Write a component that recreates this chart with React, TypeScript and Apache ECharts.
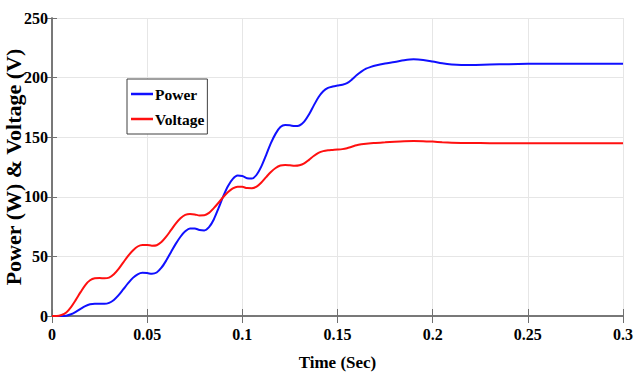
import React, { useEffect, useRef } from "react";
import * as echarts from "echarts";

// Sample times (s)
const time: number[] = [
  0, 0.0025, 0.005, 0.0075, 0.01, 0.0125, 0.015, 0.0175, 0.02, 0.0225, 0.025, 0.0275,
  0.03, 0.0325, 0.035, 0.0375, 0.04, 0.0425, 0.045, 0.0475, 0.05, 0.0525, 0.055, 0.0575,
  0.06, 0.0625, 0.065, 0.0675, 0.07, 0.0725, 0.075, 0.0775, 0.08, 0.0825, 0.085, 0.0875,
  0.09, 0.0925, 0.095, 0.0975, 0.1, 0.1025, 0.105, 0.1075, 0.11, 0.1125, 0.115, 0.1175,
  0.12, 0.1225, 0.125, 0.1275, 0.13, 0.1325, 0.135, 0.1375, 0.14, 0.1425, 0.145, 0.1475,
  0.15, 0.1525, 0.155, 0.1575, 0.16, 0.1625, 0.165, 0.1675, 0.17, 0.175, 0.18, 0.185,
  0.19, 0.195, 0.2, 0.205, 0.21, 0.215, 0.22, 0.23, 0.24, 0.25, 0.26, 0.28, 0.3,
];

// Output power (W)
const power: number[] = [
  0, 0, 0, 0.3, 1.5, 3.5, 6, 8.3, 9.8, 10.3, 10.2, 10.2,
  11, 13.5, 17.5, 22.5, 27.5, 32, 35, 36.2, 36, 35.4, 36.5, 40.5,
  46.5, 53.5, 60.5, 66.5, 71, 73.5, 73.4, 72.2, 71.8, 74.5, 81, 90.5,
  100.5, 109, 115, 117.8, 117.5, 115.6, 115.3, 118.5, 125.5, 135, 145, 153,
  158.5, 160.2, 160, 159.3, 159.8, 163, 169, 176.5, 183.5, 188.5, 191.3, 192.5,
  193.3, 194, 195.3, 198.3, 202, 205, 207.5, 209, 210.2, 211.8, 213, 214.5,
  215.3, 214.8, 213.5, 212, 211, 210.6, 210.6, 211, 211.3, 211.6, 211.7, 211.7, 211.6,
];

// Output voltage (V)
const voltage: number[] = [
  0, 0, 0.8, 3, 7.5, 13.5, 20, 26, 30, 31.6, 31.8, 31.6,
  32.2, 35, 39.5, 45, 50.5, 55, 58.3, 59.6, 59.6, 59, 59.4, 62,
  66.5, 72, 77.5, 82, 84.8, 85.6, 85.2, 84.4, 84.5, 86.5, 90.5, 95,
  99.8, 104, 107.1, 108.5, 108.4, 107.3, 107.2, 108.5, 112, 116.5, 120.8, 124.2,
  126.2, 126.7, 126.4, 126, 126.4, 128, 131, 134.2, 136.8, 138.3, 139, 139.3,
  139.6, 140, 140.8, 142, 143.2, 144, 144.6, 145, 145.2, 145.7, 146.2, 146.6,
  146.8, 146.7, 146.3, 145.8, 145.4, 145.2, 145.1, 145, 145, 145, 145, 145, 145,
];

const xTicks = { min: 0, max: 0.3, interval: 0.05 };
const yTicks = { min: 0, max: 250, interval: 50 };

const FONT = "Liberation Serif, serif";
const AXIS_GRAY = "#707070";

export default function App() {
  const ref = useRef<HTMLDivElement>(null);

  useEffect(() => {
    if (!ref.current) return;
    const chart = echarts.init(ref.current, undefined, { renderer: "svg" });

    const powerData = time.map((t, i) => [t, power[i]]);
    const voltageData = time.map((t, i) => [t, voltage[i]]);

    const tickLabel = {
      fontFamily: FONT,
      fontWeight: "bold" as const,
      fontSize: 16,
      color: "#000",
    };

    chart.setOption({
      animation: false,
      backgroundColor: "#fff",
      grid: { left: 52, right: 11, top: 18, bottom: 60, outerBoundsMode: "none", containLabel: false },
      legend: {
        orient: "vertical",
        left: 127,
        top: 79,
        padding: [7, 3, 7, 4],
        itemGap: 9,
        itemWidth: 22,
        itemHeight: 2.5,
        icon: "rect",
        borderColor: "#404040",
        borderWidth: 1,
        backgroundColor: "#fff",
        textStyle: { ...tickLabel, fontSize: 15.5, padding: [0, 0, 0, -3] },
        data: ["Power", "Voltage"],
      },
      xAxis: [
        {
          type: "value",
          ...xTicks,
          name: "Time (Sec)",
          nameLocation: "middle",
          nameGap: 38,
          nameMoveOverlap: false,
          nameTextStyle: { fontFamily: FONT, fontWeight: "bold", fontSize: 17, color: "#000" },
          axisLine: { lineStyle: { color: AXIS_GRAY, width: 1.5 } },
          axisTick: { inside: true, length: 7, lineStyle: { color: AXIS_GRAY } },
          axisLabel: {
            ...tickLabel,
            margin: 10,
            formatter: (v: number) => String(+v.toFixed(2)),
          },
          splitLine: { show: true, lineStyle: { color: "#e6e6e6", width: 1 } },
        },
        {
          type: "value",
          ...xTicks,
          position: "top",
          axisLine: { lineStyle: { color: AXIS_GRAY, width: 1.5 } },
          axisTick: { inside: true, length: 7, lineStyle: { color: AXIS_GRAY } },
          axisLabel: { show: false },
          splitLine: { show: false },
        },
      ],
      yAxis: [
        {
          type: "value",
          ...yTicks,
          name: "Power (W) & Voltage (V)",
          nameLocation: "middle",
          nameGap: 28,
          nameMoveOverlap: false,
          nameTextStyle: { fontFamily: FONT, fontWeight: "bold", fontSize: 22, color: "#000" },
          axisLine: { show: true, lineStyle: { color: AXIS_GRAY, width: 1.5 } },
          axisTick: { show: true, inside: true, length: 5, lineStyle: { color: AXIS_GRAY } },
          axisLabel: { ...tickLabel, margin: 4 },
          splitLine: { show: true, lineStyle: { color: "#e6e6e6", width: 1 } },
        },
        {
          type: "value",
          ...yTicks,
          position: "right",
          axisLine: { show: true, lineStyle: { color: AXIS_GRAY, width: 1.5 } },
          axisTick: { show: true, inside: true, length: 5, lineStyle: { color: AXIS_GRAY } },
          axisLabel: { show: false },
          splitLine: { show: false },
        },
      ],
      series: [
        {
          name: "Power",
          type: "line",
          data: powerData,
          smooth: 0.3,
          symbol: "none",
          lineStyle: { color: "#1010ff", width: 2 },
          itemStyle: { color: "#1010ff" },
        },
        {
          name: "Voltage",
          type: "line",
          data: voltageData,
          smooth: 0.3,
          symbol: "none",
          lineStyle: { color: "#ff1010", width: 2 },
          itemStyle: { color: "#ff1010" },
        },
      ],
    });

    return () => chart.dispose();
  }, []);

  return (
    <div
      ref={ref}
      style={{ width: 634, height: 376, position: "absolute", left: 0, top: 0 }}
    />
  );
}
